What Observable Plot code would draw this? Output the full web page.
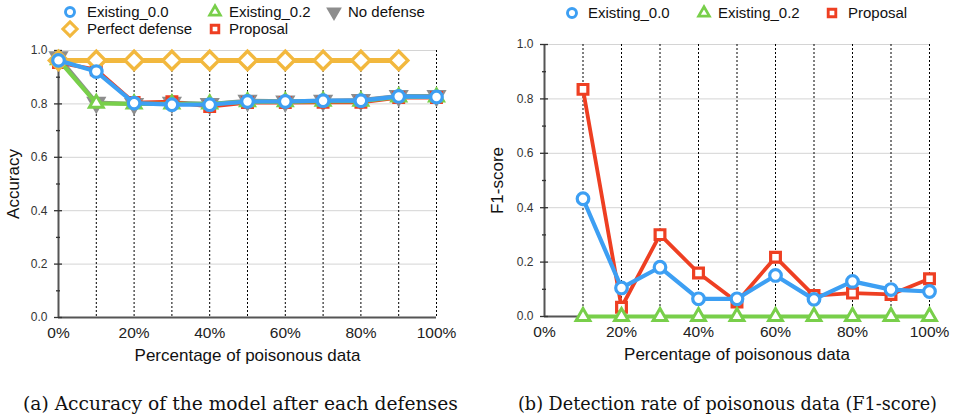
<!DOCTYPE html>
<html><head><meta charset="utf-8">
<script src="https://cdn.jsdelivr.net/npm/d3@7"></script>
<script src="https://cdn.jsdelivr.net/npm/@observablehq/plot@0.6"></script>
<style>
body{margin:0;background:#fff;}
#wrap{position:relative;width:956px;height:418px;font-family:"Liberation Sans",Arial,sans-serif;color:#111;overflow:hidden;}
.panel{position:absolute;top:36px;}
.leg{position:absolute;font-size:15px;line-height:18px;white-space:nowrap;}
.sym{position:absolute;overflow:visible;}
.cap{position:absolute;font-family:"DejaVu Serif","Liberation Serif",serif;font-size:17px;line-height:20px;white-space:nowrap;color:#111;}
</style></head>
<body><div id="wrap"></div>
<script>
// ---- data ----
const pctAcc = [0, 10, 20, 30, 40, 50, 60, 70, 80, 90, 100];
const pctPerfect = [0, 10, 20, 30, 40, 50, 60, 70, 80, 90];
const pctF1 = [10, 20, 30, 40, 50, 60, 70, 80, 90, 100];

const accNoDefense   = [0.975, 0.805, 0.800, 0.805, 0.800, 0.812, 0.810, 0.812, 0.815, 0.830, 0.830];
const accProposal    = [0.955, 0.928, 0.805, 0.808, 0.790, 0.805, 0.805, 0.806, 0.806, 0.824, 0.824];
const accExisting02  = [0.965, 0.802, 0.800, 0.800, 0.800, 0.808, 0.808, 0.810, 0.810, 0.826, 0.826];
const accPerfect     = [0.963, 0.963, 0.963, 0.963, 0.963, 0.963, 0.963, 0.963, 0.963, 0.963];
const accExisting00  = [0.963, 0.921, 0.803, 0.797, 0.797, 0.809, 0.809, 0.812, 0.812, 0.828, 0.826];

const f1Proposal   = [0.835, 0.034, 0.301, 0.160, 0.053, 0.218, 0.077, 0.086, 0.081, 0.139];
const f1Existing00 = [0.433, 0.105, 0.181, 0.065, 0.065, 0.151, 0.063, 0.129, 0.099, 0.092];
const f1Existing02 = [0, 0, 0, 0, 0, 0, 0, 0, 0, 0];

const xTickLabels = [0, 20, 40, 60, 80, 100];
const yTickLabels = [0, 0.2, 0.4, 0.6, 0.8, 1.0];
const yMinorTicks = [0.1, 0.3, 0.5, 0.7, 0.9];
const xGridTicks = [10, 20, 30, 40, 50, 60, 70, 80, 90, 100];

const captionA = "(a) Accuracy of the model after each defenses";
const captionB = "(b) Detection rate of poisonous data (F1-score)";

// ---- styles ----
const STY = {
  "Existing_0.0":   {color: "#3d9ff3", symbol: "circle",   r: 5.8, fill: "white", sw: 3.2, lw: 4.2},
  "Existing_0.2":   {color: "#78cf4a", symbol: "triangle2", r: 6.6, fill: "white", sw: 3, lw: 4.2},
  "No defense":     {color: "#8d8d8d", symbol: "triangle", r: 7.5, fill: "#8d8d8d", sw: 0, lw: 4, rotate: 180},
  "Perfect defense":{color: "#f2b83e", symbol: "diamond2", r: 8.2, fill: "white", sw: 3.4, lw: 5},
  "Proposal":       {color: "#ee3f22", symbol: "square2",  r: 6.2, fill: "white", sw: 3.2, lw: 3.8}
};

function series(name, xs, ys) { return xs.map((x, i) => ({name, x, y: ys[i]})); }

function seriesMarks(rows) {
  const s = STY[rows[0].name];
  return [
    Plot.line(rows, {x: "x", y: "y", stroke: s.color, strokeWidth: s.lw, strokeLinejoin: "round"}),
    Plot.dot(rows, {x: "x", y: "y", symbol: () => s.symbol, r: s.r, stroke: s.sw ? s.color : "none",
      strokeWidth: s.sw, fill: s.fill, rotate: s.rotate || 0})
  ];
}

function frameMarks(yTitle, titleOffset) {
  return [
    Plot.gridY(yTickLabels.slice(1), {stroke: "#d4d4d4", strokeOpacity: 1, strokeWidth: 1}),
    Plot.gridX(xGridTicks, {stroke: "#000", strokeOpacity: 1, strokeWidth: 1, strokeDasharray: "2,2"}),
    Plot.ruleX([0], {stroke: "#555", strokeWidth: 2}),
    Plot.ruleY([0], {stroke: "#555", strokeWidth: 2}),
    Plot.axisY({ticks: yTickLabels, tickSize: 8, dx: 4, tickFormat: () => "", label: null, stroke: "#333", strokeWidth: 1.3}),
    Plot.axisY({ticks: yMinorTicks, tickSize: 4, dx: 2, tickFormat: () => "", label: null, stroke: "#333", strokeWidth: 1.3}),
    Plot.axisY({ticks: yTickLabels, tickSize: 0, tickPadding: 11, tickFormat: d3.format(".1f"), label: null, fontSize: 12, fill: "#333"}),
    Plot.axisX({ticks: xTickLabels, tickSize: 0, tickPadding: 9, tickFormat: d => d + "%", label: null, fontSize: 15.5, fill: "#222"}),
    Plot.text(["Percentage of poisonous data"], {frameAnchor: "bottom", dy: 38, fontSize: 17, textAnchor: "middle", lineAnchor: "middle", fill: "#111"}),
    Plot.text([yTitle], {frameAnchor: "left", dx: -titleOffset, rotate: -90, fontSize: 17, textAnchor: "middle", lineAnchor: "middle", fill: "#111"})
  ];
}

const wrap = document.getElementById("wrap");

// Left panel
const left = Plot.plot({
  width: 478, height: 340,
  marginLeft: 58, marginRight: 42, marginTop: 14, marginBottom: 59,
  x: {type: "linear", domain: [0, 100]},
  y: {domain: [0, 1]},
  style: {fontFamily: "Liberation Sans, Arial, sans-serif", background: "transparent"},
  marks: [
    ...frameMarks("Accuracy", 45),
    ...seriesMarks(series("No defense", pctAcc, accNoDefense)),
    ...seriesMarks(series("Proposal", pctAcc, accProposal)),
    ...seriesMarks(series("Existing_0.2", pctAcc, accExisting02)),
    ...seriesMarks(series("Perfect defense", pctPerfect, accPerfect)),
    ...seriesMarks(series("Existing_0.0", pctAcc, accExisting00))
  ]
});
left.classList.add("panel"); left.style.left = "0px";
wrap.appendChild(left);

// Right panel
const right = Plot.plot({
  width: 478, height: 340,
  marginLeft: 66, marginRight: 27, marginTop: 8, marginBottom: 60,
  x: {type: "linear", domain: [0, 100]},
  y: {domain: [0, 1]},
  style: {fontFamily: "Liberation Sans, Arial, sans-serif", background: "transparent"},
  marks: [
    ...frameMarks("F1-score", 47),
    ...seriesMarks(series("Proposal", pctF1, f1Proposal)),
    ...seriesMarks(series("Existing_0.0", pctF1, f1Existing00)),
    ...seriesMarks(series("Existing_0.2", pctF1, f1Existing02))
  ]
});
right.classList.add("panel"); right.style.left = "478px";
wrap.appendChild(right);

// Legends
const d3sym = {circle: d3.symbolCircle, triangle2: d3.symbolTriangle2, triangle: d3.symbolTriangle,
  diamond2: d3.symbolDiamond2, square2: d3.symbolSquare2};
function legendItem(name, sx, tx, cy, scale) {
  const s = STY[name];
  const r = s.r * scale;
  const svg = d3.select(wrap).append("svg").attr("class", "sym")
    .attr("width", 24).attr("height", 24)
    .style("left", (sx - 12) + "px").style("top", (cy - 12) + "px");
  svg.append("path")
    .attr("d", d3.symbol(d3sym[s.symbol], Math.PI * r * r)())
    .attr("transform", `translate(12,12) rotate(${s.rotate || 0})`)
    .attr("fill", s.fill).attr("stroke", s.sw ? s.color : "none").attr("stroke-width", s.sw * 0.9);
  d3.select(wrap).append("div").attr("class", "leg")
    .style("left", tx + "px").style("top", (cy - 9) + "px").text(name);
}
legendItem("Existing_0.0", 70, 87, 12, 0.78);
legendItem("Existing_0.2", 215, 229, 12, 0.78);
legendItem("No defense", 334, 348, 12, 0.78);
legendItem("Perfect defense", 70, 87, 29, 0.78);
legendItem("Proposal", 215, 229, 29, 0.78);

legendItem("Existing_0.0", 572, 588, 13, 0.78);
legendItem("Existing_0.2", 704, 718, 13, 0.78);
legendItem("Proposal", 832, 848, 13, 0.78);

// Captions: fit font size to the span of the original caption
function caption(text, x0, x1) {
  const div = d3.select(wrap).append("div").attr("class", "cap").text(text);
  const w = div.node().getBoundingClientRect().width;
  const fs = 17 * (x1 - x0) / w;
  div.style("font-size", fs + "px").style("left", x0 + "px").style("top", (404 - 10) + "px");
}
caption(captionA, 23, 458);
caption(captionB, 518, 937);
</script>
</body></html>
